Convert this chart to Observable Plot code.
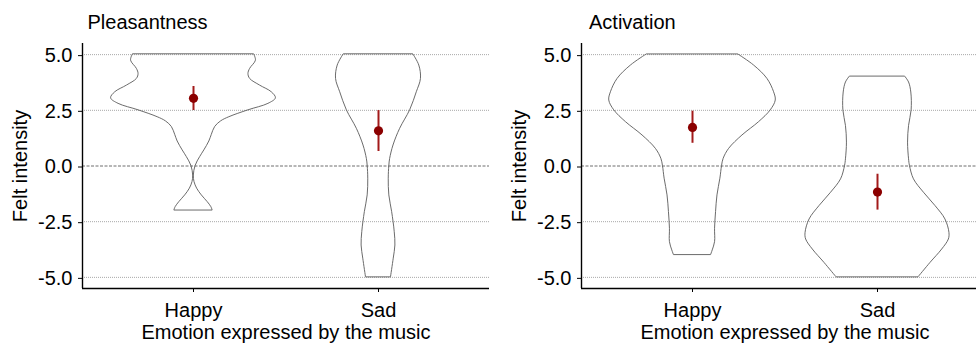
<!DOCTYPE html>
<html>
<head>
<meta charset="utf-8">
<script src="https://cdn.jsdelivr.net/npm/d3@7"></script>
<script src="https://cdn.jsdelivr.net/npm/@observablehq/plot@0.6"></script>
<style>
  html, body { margin: 0; padding: 0; background: white; }
  #wrap { position: relative; width: 976px; height: 345px; overflow: hidden; background: white; }
  .title { position: absolute; top: 12px; font-family: "Liberation Sans", Arial, sans-serif; font-size: 20px; line-height: 20px; color: black; white-space: nowrap; }
  .panel { position: absolute; top: 0; width: 490px; height: 345px; }
  .panel svg { max-width: none !important; }
</style>
</head>
<body>
<div id="wrap">
  <div id="p1" class="panel" style="left:0px"></div>
  <div id="p2" class="panel" style="left:499px"></div>
  <div id="t1" class="title" style="left:87.5px"></div>
  <div id="t2" class="title" style="left:589px"></div>
</div>
<script>
// ---- data ----
const categories = ["Happy", "Sad"];
const panelTitles = ["Pleasantness", "Activation"];
const xAxisLabel = "Emotion expressed by the music";
const yAxisLabel = "Felt intensity";
const yTicks = [-5, -2.5, 0, 2.5, 5];
const yTickLabels = ["-5.0", "-2.5", "0.0", "2.5", "5.0"];

// violin profiles: y levels and relative density (1 = widest)
const pleasHappyY = [5.0, 4.73, 4.36, 4.13, 3.91, 3.61, 3.31, 3.04, 2.79, 2.5, 2.19, 2.0, 1.75, 1.4, 1.1, 0.7, 0.4, 0.0, -0.43, -0.72, -1.02, -1.32, -1.62, -1.85, -2.0];
const pleasHappyDensity = [0.73, 0.75, 0.68, 0.66, 0.68, 0.80, 0.94, 0.99, 0.90, 0.66, 0.43, 0.33, 0.26, 0.22, 0.19, 0.13, 0.08, 0.025, 0.004, 0.012, 0.044, 0.10, 0.17, 0.215, 0.23];

const pleasSadY = [5.0, 4.51, 3.91, 3.31, 2.5, 1.67, 0.92, 0.32, 0.0, -0.57, -1.32, -2.07, -2.97, -3.57, -4.16, -5.0];
const pleasSadDensity = [0.42, 0.49, 0.51, 0.46, 0.38, 0.26, 0.18, 0.14, 0.13, 0.123, 0.13, 0.164, 0.195, 0.203, 0.183, 0.15];

const actHappyY = [5.0, 4.51, 3.91, 3.31, 2.94, 2.5, 1.97, 1.37, 0.77, 0.32, 0.0, -0.57, -1.32, -2.07, -2.82, -3.42, -3.79, -4.0];
const actHappyDensity = [0.553, 0.74, 0.90, 0.98, 1.0, 0.94, 0.80, 0.60, 0.44, 0.374, 0.355, 0.335, 0.30, 0.283, 0.271, 0.271, 0.243, 0.223];

const actSadY = [4.0, 3.75, 3.3, 2.5, 1.8, 1.05, 0.3, 0.0, -0.6, -1.2, -1.8, -2.4, -3.0, -3.3, -3.75, -4.35, -5.0];
const actSadDensity = [0.335, 0.379, 0.406, 0.41, 0.379, 0.367, 0.379, 0.39, 0.438, 0.558, 0.697, 0.816, 0.864, 0.857, 0.777, 0.637, 0.492];

// means and confidence intervals (Happy, Sad)
const pleasMean = [3.04, 1.58];
const pleasLow = [2.49, 0.65];
const pleasHigh = [3.57, 2.49];
const actMean = [1.73, -1.17];
const actLow = [1.02, -1.98];
const actHigh = [2.46, -0.37];

// ---- build tables ----
const maxHalfWidth = 0.45;
function violinRows(cat, ys, dens) {
  const pos = categories.indexOf(cat) + 1;
  return ys.map((y, i) => ({cat, pos, y, density: dens[i]}));
}
function meanRows(means, lows, highs) {
  return categories.map((cat, i) => ({cat, pos: i + 1, mean: means[i], lo: lows[i], hi: highs[i]}));
}
const tickLabelMap = new Map(yTicks.map((t, i) => [t, yTickLabels[i]]));

function panel(violins, means) {
  return Plot.plot({
    width: 490,
    height: 345,
    marginLeft: 82,
    marginRight: 1,
    marginTop: 43,
    marginBottom: 57,
    x: {domain: [0.4, 2.6]},
    y: {domain: [-5.5, 5.5]},
    style: {fontFamily: "'Liberation Sans', Arial, sans-serif", fontSize: "20px", color: "black", background: "white", overflow: "visible", maxWidth: "none"},
    marks: [
      Plot.ruleY(yTicks.filter(t => t !== 0), {stroke: "#a8a8a8", strokeWidth: 1, strokeDasharray: "1,1"}),
      Plot.ruleY([0], {stroke: "#6e6e6e", strokeWidth: 1, strokeDasharray: "3,1.5"}),
      Plot.areaX(violins, {
        y: "y",
        x1: d => d.pos - d.density * maxHalfWidth,
        x2: d => d.pos + d.density * maxHalfWidth,
        z: "cat",
        fill: "none",
        stroke: "#5a5a5a",
        strokeWidth: 0.9,
        curve: "catmull-rom"
      }),
      Plot.ruleX(means, {x: "pos", y1: "lo", y2: "hi", stroke: "#a31a1a", strokeWidth: 2}),
      Plot.dot(means, {x: "pos", y: "mean", r: 4.6, fill: "#8b0000", stroke: "none"}),
      Plot.axisY({
        ticks: yTicks,
        tickFormat: d => tickLabelMap.get(d),
        tickSize: 4,
        tickPadding: 6,
        dy: 1,
        stroke: "black",
        label: yAxisLabel,
        labelAnchor: "center",
        labelOffset: 70,
        labelArrow: "none"
      }),
      Plot.axisX({
        ticks: [1, 2],
        tickFormat: d => categories[d - 1],
        tickSize: 4,
        tickPadding: 10,
        stroke: "black",
        label: xAxisLabel,
        labelAnchor: "center",
        labelOffset: 50,
        labelArrow: "none"
      }),
      Plot.ruleX([0.4], {stroke: "black", strokeWidth: 1.4}),
      Plot.ruleY([-5.5], {stroke: "black", strokeWidth: 1.4})
    ]
  });
}

const pleasViolins = [
  ...violinRows("Happy", pleasHappyY, pleasHappyDensity),
  ...violinRows("Sad", pleasSadY, pleasSadDensity)
];
const actViolins = [
  ...violinRows("Happy", actHappyY, actHappyDensity),
  ...violinRows("Sad", actSadY, actSadDensity)
];

document.getElementById("p1").appendChild(panel(pleasViolins, meanRows(pleasMean, pleasLow, pleasHigh)));
document.getElementById("p2").appendChild(panel(actViolins, meanRows(actMean, actLow, actHigh)));
document.getElementById("t1").textContent = panelTitles[0];
document.getElementById("t2").textContent = panelTitles[1];
</script>
</body>
</html>
